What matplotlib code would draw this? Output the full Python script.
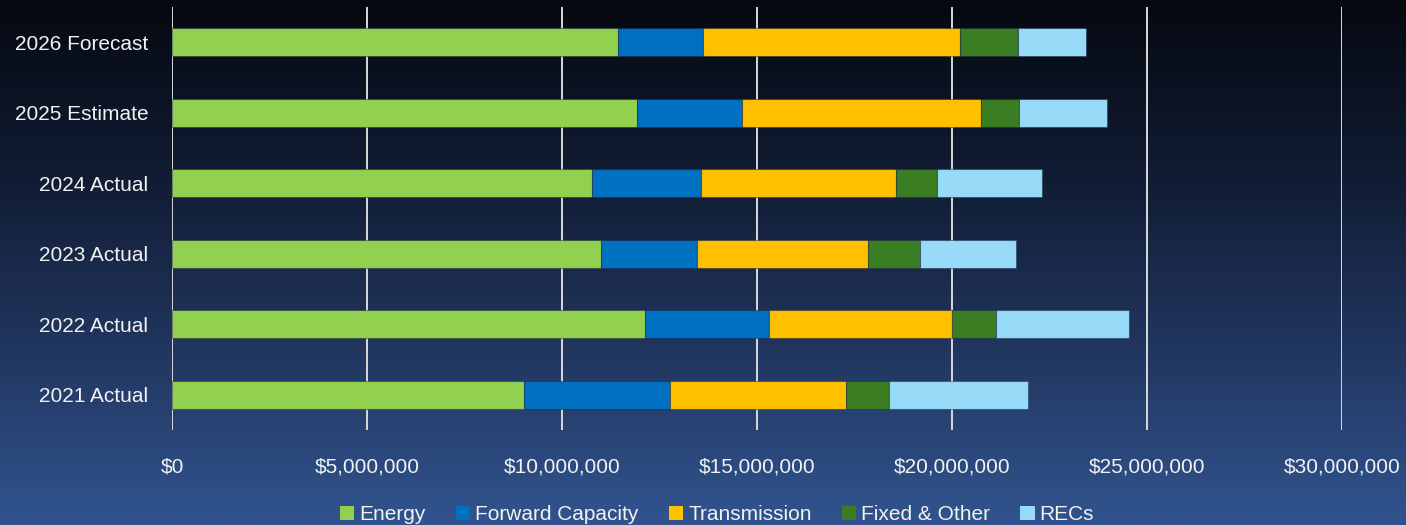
import matplotlib
matplotlib.use("Agg")
import matplotlib.pyplot as plt
import numpy as np
from matplotlib.colors import LinearSegmentedColormap
from matplotlib.patches import Patch
from matplotlib.ticker import FuncFormatter

plt.rcParams["font.family"] = ["Liberation Sans", "DejaVu Sans"]

# ── Data (USD) ───────────────────────────────────────────────────────────────
categories = ["2021 Actual", "2022 Actual", "2023 Actual", "2024 Actual",
              "2025 Estimate", "2026 Forecast"]
energy       = [9_020_000, 12_140_000, 11_000_000, 10_770_000, 11_920_000, 11_430_000]
forward_cap  = [3_750_000,  3_180_000,  2_460_000,  2_800_000,  2_700_000,  2_180_000]
transmission = [4_510_000,  4_690_000,  4_390_000,  4_990_000,  6_120_000,  6_590_000]
fixed_other  = [1_100_000,  1_120_000,  1_340_000,  1_060_000,    970_000,  1_490_000]
recs         = [3_560_000,  3_400_000,  2_440_000,  2_700_000,  2_260_000,  1_740_000]

series = [
    ("Energy",           energy,       "#92d050"),
    ("Forward Capacity", forward_cap,  "#0070c0"),
    ("Transmission",     transmission, "#ffc000"),
    ("Fixed & Other",    fixed_other,  "#3a7d22"),
    ("RECs",             recs,         "#97dbf8"),
]

# ── Canvas with vertical gradient ────────────────────────────────────────────
fig = plt.figure(figsize=(14.06, 5.25), dpi=100)
bg = fig.add_axes([0, 0, 1, 1], zorder=-10)
cmap = LinearSegmentedColormap.from_list(
    "bg", ["#050910", "#111c33", "#21365f", "#31548f"])
grad = np.linspace(0, 1, 256).reshape(-1, 1)
bg.imshow(grad, aspect="auto", cmap=cmap, extent=[0, 1, 0, 1], origin="upper")
bg.axis("off")

ax = fig.add_axes([172 / 1406, 1 - 430 / 525, (1342 - 172) / 1406, 423 / 525])
ax.set_facecolor("none")

y = np.arange(len(categories))
left = np.zeros(len(categories))
for name, vals, col in series:
    ax.barh(y, vals, left=left, height=0.40, color=col, label=name,
            edgecolor=(0.1, 0.15, 0.25, 0.45), linewidth=0.8, zorder=3)
    left += np.array(vals)

ax.set_xlim(0, 30_000_000)
ax.set_ylim(-0.5, len(categories) - 0.5)
ax.set_xticks(np.arange(0, 30_000_001, 5_000_000))
ax.xaxis.set_major_formatter(FuncFormatter(lambda v, p: f"${v:,.0f}"))
ax.set_yticks(y)
ax.set_yticklabels(categories)

ax.grid(axis="x", color="#d9d9d9", linewidth=1.4, zorder=0)
ax.set_axisbelow(True)
for s in ax.spines.values():
    s.set_visible(False)
ax.tick_params(axis="x", length=0, pad=20, labelsize=15, labelcolor="#f2f2f2")
ax.tick_params(axis="y", length=0, pad=17, labelsize=15, labelcolor="#f2f2f2")

handles = [Patch(facecolor=c, label=n) for n, _, c in series]
fig.legend(handles=handles, loc="center", ncol=5, frameon=False,
           bbox_to_anchor=(717 / 1406, 1 - 515 / 525),
           fontsize=15, labelcolor="#f2f2f2",
           handlelength=0.68, handleheight=0.68, handletextpad=0.25,
           columnspacing=1.45, borderaxespad=0)

fig.savefig("out.png", dpi=100)
